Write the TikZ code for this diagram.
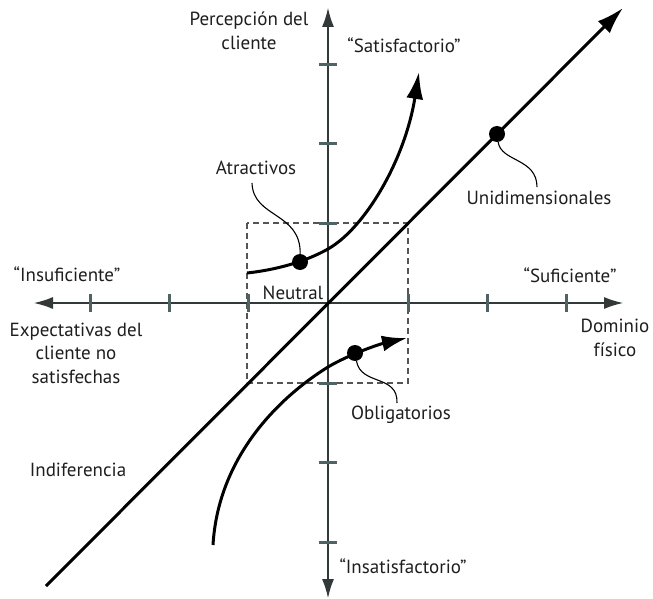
\documentclass[tikz,border=0pt]{standalone}
\usepackage{fontspec}
\setmainfont{PT Sans}
\usetikzlibrary{arrows.meta}
\definecolor{txt}{HTML}{1E1E1E}
\definecolor{axisc}{HTML}{333838}
\definecolor{tickc}{HTML}{4F6363}
\definecolor{dashc}{HTML}{555555}
\begin{document}
\begin{tikzpicture}[x=1pt,y=-1pt,
  lbl/.style={text=txt,font=\fontsize{19}{23.5}\selectfont,inner sep=0pt,align=center},
  axisline/.style={draw=axisc,line width=1.3pt,{Latex[length=19pt,width=12pt]}-{Latex[length=19pt,width=12pt]}},
  tickmark/.style={draw=tickc,line width=3pt},
  heavy/.style={draw=black,line width=3pt},
  bigtip/.style={-{Latex[length=27pt,width=17pt]}},
  dot/.style={circle,fill=black,minimum size=16pt,inner sep=0pt},
  leader/.style={draw=black,line width=1.1pt},
  box/.style={draw=dashc,line width=1.3pt,dash pattern=on 6pt off 4pt}
]
\useasboundingbox (0,0) rectangle (653,599);

% dashed neutral box
\draw[box] (247,223) rectangle (408,383);

% axes
\coordinate (L) at (34,303);
\coordinate (R) at (623,303);
\coordinate (T) at (328,8);
\coordinate (B) at (328,598);
\draw[axisline] (L) -- (R);
\draw[axisline] (T) -- (B);

% ticks
\foreach \x in {90,169,248,408,487,566} \draw[tickmark] (\x,294) -- (\x,312);
\foreach \y in {65,144,223,383,462,542} \draw[tickmark] (319,\y) -- (337,\y);

% unidimensional line
\coordinate (D0) at (46,586);
\coordinate (D1) at (623,8);
\draw[heavy,bigtip] (D0) -- (D1);

% attractive curve
\coordinate (A0) at (247,273);
\coordinate (A1) at (328,249);
\coordinate (A2) at (419,72);
\draw[heavy,bigtip] (A0) .. controls (275,270) and (305,262) .. (A1)
  .. controls (365,228) and (405,160) .. (A2);

% obligatory curve
\coordinate (O0) at (213,545);
\coordinate (O1) at (328,367);
\coordinate (O2) at (407,338);
\draw[heavy,-{Latex[length=25pt,width=16pt]}] (O0) .. controls (218,460) and (275,400) .. (O1)
  .. controls (350,354) and (380,344) .. (O2);

% dots
\node[dot] (dA) at (300,262) {};
\node[dot] (dU) at (497,134) {};
\node[dot] (dO) at (355,353) {};

% labels
\node[lbl] (percep) at (249,31) {Percepción del\\cliente};
\node[lbl] (satis) at (404,45) {“Satisfactorio”};
\node[lbl] (atr) at (256,168) {Atractivos};
\node[lbl] (uni) at (539,198) {Unidimensionales};
\node[lbl] (insuf) at (67,274) {“Insuficiente”};
\node[lbl] (suf) at (570,275) {“Suficiente”};
\node[lbl] (neutral) at (293,293) {Neutral};
\node[lbl] (expect) at (76,353) {Expectativas del\\cliente no\\satisfechas};
\node[lbl] (dominio) at (615,338) {Dominio\\físico};
\node[lbl] (oblig) at (401,415) {Obligatorios};
\node[lbl] (indif) at (78,470) {Indiferencia};
\node[lbl] (insat) at (403,566) {“Insatisfactorio”};

% leader lines
\coordinate (atrE) at (252,183);
\coordinate (uniE) at (537,187);
\coordinate (oblE) at (397,403);
\draw[leader] (dA) .. controls (301,212) and (253,218) .. (atrE);
\draw[leader] (dU) .. controls (501,162) and (537,158) .. (uniE);
\draw[leader] (dO) .. controls (361,386) and (398,374) .. (oblE);
\end{tikzpicture}
\end{document}
